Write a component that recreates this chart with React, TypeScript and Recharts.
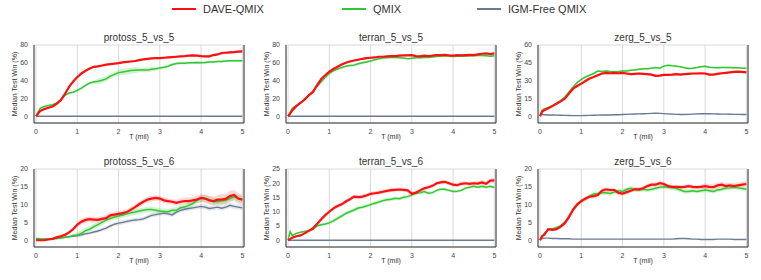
import { ComposedChart, Line, Area, XAxis, YAxis, CartesianGrid } from 'recharts'

// training steps (millions)
const TIME = [0, 0.05, 0.1, 0.2, 0.3, 0.4, 0.5, 0.6, 0.7, 0.8, 0.9, 1, 1.1, 1.2, 1.3, 1.4, 1.5, 1.6, 1.7, 1.8, 1.9, 2, 2.1, 2.2, 2.3, 2.4, 2.5, 2.6, 2.7, 2.8, 2.9, 3, 3.1, 3.2, 3.3, 3.4, 3.5, 3.6, 3.7, 3.8, 3.9, 4, 4.1, 4.2, 4.3, 4.4, 4.5, 4.6, 4.7, 4.8, 4.9, 5]
const X_TICKS = [0, 1, 2, 3, 4, 5]

// protoss_5_vs_5
const p55Dave = [0, 3, 6, 8, 9.5, 11, 14, 18, 25, 33, 39, 44, 48, 51, 53.5, 55.5, 56, 57, 58, 58.5, 59, 59.6, 60.4, 61, 61.5, 62, 63, 63.8, 64.5, 65, 65.2, 65.3, 65.7, 66, 66.4, 66.8, 67.2, 67.5, 68, 68.3, 68, 67.5, 67.2, 67.2, 68.7, 69.4, 71, 71.3, 71.7, 72, 72.5, 72.8]
const p55Qmix = [0, 5, 9, 11, 12, 13, 15, 18, 23.5, 26, 27, 29, 31.5, 34.7, 37.3, 38.5, 39.3, 40.4, 42, 45, 47, 49, 49.8, 50.5, 51.3, 51.7, 52, 52, 52, 52.8, 53.2, 54.3, 55, 56.2, 58, 59.2, 59.6, 59.6, 60, 60, 60.4, 60, 60.4, 61, 61, 61.5, 61.5, 62, 62.3, 62.3, 62.3, 62.3]
const p55Free = [0, 0, 0, 0, 0, 0, 0, 0, 0, 0, 0, 0, 0, 0, 0, 0, 0, 0, 0, 0, 0, 0, 0, 0, 0, 0, 0, 0, 0, 0, 0, 0, 0, 0, 0, 0, 0, 0, 0, 0, 0, 0, 0, 0, 0, 0, 0, 0, 0, 0, 0, 0]
const p55DaveSpread = [0.5, 1, 1, 1, 1, 1, 1, 1, 1.5, 1.5, 1.5]
const p55QmixSpread = [0.5, 1, 1.5, 3, 3.5, 2.5, 1.5, 1.5, 1.5, 1.5, 1.5]

// terran_5_vs_5
const t55Dave = [0, 3, 6.4, 11.3, 15, 18.5, 23.4, 27, 34.7, 41.5, 46, 50, 53, 55.5, 58, 60, 61.5, 62.6, 63.4, 64.5, 65.3, 65.7, 66, 66.8, 66.8, 67.2, 67.5, 67.5, 68, 68.3, 68.3, 68.7, 67.5, 67.2, 68, 67.5, 68, 68.7, 68.7, 69, 68.3, 68, 68.7, 68.3, 68.7, 69, 68.7, 69.4, 70.2, 70.6, 69.8, 70.6]
const t55Qmix = [0, 4.5, 9, 12, 15, 19.6, 23.4, 28, 33, 38.5, 43.4, 48, 51, 53, 54.7, 56.2, 57, 57.4, 59, 60, 61, 62, 63.4, 64.5, 65.3, 65.7, 66, 66, 65.7, 65.3, 64.5, 65, 65.7, 65.7, 66, 66, 66.4, 67.2, 67.5, 68, 67.5, 67.2, 67.5, 67.5, 67.5, 68, 68, 68.3, 68.3, 68, 67.5, 68]
const t55Free = [0, 0, 0, 0, 0, 0, 0, 0, 0, 0, 0, 0, 0, 0, 0, 0, 0, 0, 0, 0, 0, 0, 0, 0, 0, 0, 0, 0, 0, 0, 0, 0, 0, 0, 0, 0, 0, 0, 0, 0, 0, 0, 0, 0, 0, 0, 0, 0, 0, 0, 0, 0]
const t55DaveSpread = [0.5, 1, 1, 1, 1, 1, 0.8, 0.8, 0.8, 0.8, 0.8]
const t55QmixSpread = [0.5, 0.8, 1, 1.5, 1, 0.8, 0.8, 0.8, 0.8, 0.8, 0.8]

// zerg_5_vs_5
const z55Dave = [0, 4, 5, 6.8, 8.5, 10.5, 12.5, 14.7, 19, 23.2, 25.5, 27.5, 29.7, 31.7, 33.1, 34.5, 36, 36.5, 36.2, 36.5, 36.2, 36.5, 36, 35.4, 35.7, 36, 35.7, 35.4, 35, 34, 34.2, 34.8, 34.8, 35, 35.4, 35, 35.4, 35.7, 36, 36, 36.2, 36, 35, 35, 35.7, 36.2, 36.5, 37, 37.4, 37.6, 37.4, 37]
const z55Qmix = [0, 5, 6.2, 7.4, 9, 11, 13.3, 16, 20.4, 24.6, 28.3, 31, 33.1, 34.5, 36, 38, 37.6, 38, 37.6, 37.4, 37.6, 38, 38.2, 38.8, 39, 39.6, 40, 40, 40.5, 41, 40.5, 42.2, 43, 42.5, 42.2, 41.6, 40.8, 40.2, 40.5, 41, 41.6, 42, 41.3, 41, 40.8, 41, 41, 41, 40.8, 40.8, 40.5, 40.5]
const z55Free = [1.5, 1.4, 1.3, 1.1, 1, 0.9, 0.8, 0.7, 0.6, 0.5, 0.5, 0.5, 0.6, 0.7, 0.8, 0.9, 1, 1, 1.1, 1.2, 1.3, 1.5, 1.6, 1.8, 1.9, 2, 2.1, 2.2, 2.4, 2.5, 2.4, 2.2, 2, 1.8, 1.6, 1.5, 1.5, 1.6, 1.8, 2, 2.1, 2.2, 2.1, 2, 1.9, 1.8, 1.8, 1.7, 1.6, 1.6, 1.5, 1.5]
const z55DaveSpread = [0.5, 0.8, 1, 1, 1, 1, 1, 1, 1, 1, 1]
const z55QmixSpread = [0.5, 0.8, 0.8, 0.8, 0.8, 0.8, 0.8, 0.8, 0.8, 0.8, 0.8]
const z55FreeSpread = [0.4, 0.4, 0.4, 0.4, 0.5, 0.5, 0.5, 0.5, 0.5, 0.5, 0.5]

// protoss_5_vs_6
const p56Dave = [0, 0, 0, 0, 0.2, 0.4, 0.8, 1.1, 1.5, 2.2, 3.1, 4.4, 5.2, 5.7, 5.9, 5.8, 5.7, 6, 6.2, 7, 7.2, 7.4, 7.6, 7.9, 8.6, 9.3, 10.1, 10.8, 11.4, 11.7, 11.9, 11.7, 11.2, 11, 10.8, 10.5, 10.8, 11, 11, 11.2, 11.4, 11.9, 11.7, 11.2, 11, 11.4, 11.4, 11.6, 12.4, 12.7, 11.7, 11.4]
const p56Qmix = [0.5, 0.5, 0.4, 0.3, 0.4, 0.4, 0.5, 0.6, 0.8, 1, 1.3, 1.5, 1.9, 2.7, 3.1, 3.8, 4.4, 5, 5.7, 6.1, 6.5, 6.8, 7.1, 7.4, 7.7, 7.9, 8.2, 8.4, 8.6, 8.6, 8.4, 8.2, 8.1, 8, 8.4, 8.4, 9.1, 9.3, 9.8, 10.3, 11.2, 11.7, 11.7, 11.4, 10.8, 10.8, 11, 11.2, 11.7, 12.2, 11.7, 11.4]
const p56Free = [0.2, 0.2, 0.2, 0.3, 0.4, 0.5, 0.6, 0.7, 0.8, 1, 1.1, 1.3, 1.5, 1.8, 2, 2.3, 2.6, 3, 3.4, 4, 4.5, 4.8, 5, 5.3, 5.5, 5.7, 5.8, 6, 6.5, 7, 7.2, 7.4, 7.6, 7.4, 7.1, 7.9, 8.4, 8.7, 8.9, 9.1, 9.3, 9.5, 9.3, 8.9, 9.1, 9.3, 9, 9.3, 9.8, 9.5, 9.3, 9.1]
const p56DaveSpread = [0.2, 0.5, 0.8, 0.8, 0.8, 0.8, 0.8, 1, 1.2, 1.5, 1.5]
const p56QmixSpread = [0.2, 0.4, 0.8, 0.8, 0.8, 0.8, 0.8, 0.8, 1, 1, 1]
const p56FreeSpread = [0.1, 0.2, 0.4, 0.5, 0.6, 0.6, 0.6, 0.6, 0.7, 0.7, 0.7]

// terran_5_vs_6
const t56Dave = [0, 0.4, 0.9, 1.4, 1.7, 2.4, 3.3, 4.1, 5.7, 7.3, 8.8, 10, 11.2, 12, 12.6, 13.6, 14.4, 15.3, 15.1, 15.3, 15.7, 16.3, 16.5, 16.7, 17, 17.3, 17.6, 17.7, 17.8, 17.7, 17.5, 16.3, 16.7, 17.5, 18.2, 18.6, 19.1, 20, 20.3, 20.5, 20, 19.5, 19.3, 19.8, 20, 19.8, 20, 19.9, 20.3, 19.8, 20.9, 21]
const t56Qmix = [0, 3, 1.6, 2.4, 2.8, 3.1, 3.3, 3.8, 5, 5.4, 5.7, 6.1, 6.8, 7.7, 8.5, 9.4, 10, 10.6, 11.3, 11.6, 12, 12.5, 13, 13.4, 13.9, 14.2, 14.4, 14.7, 14.6, 15.1, 15.3, 15.9, 16.5, 16.7, 17.1, 16.5, 16.7, 17.5, 17.9, 17.9, 17.5, 17.1, 17.2, 17.5, 18.3, 18.6, 18.9, 18.6, 18.9, 18.6, 18.9, 18.5]
const t56Free = [0, 0, 0, 0, 0, 0, 0, 0, 0, 0, 0, 0, 0, 0, 0, 0, 0, 0, 0, 0, 0, 0, 0, 0, 0, 0, 0, 0, 0, 0, 0, 0, 0, 0, 0, 0, 0, 0, 0, 0, 0, 0, 0, 0, 0, 0, 0, 0, 0, 0, 0, 0]
const t56DaveSpread = [0.3, 0.5, 0.7, 0.7, 0.7, 0.7, 0.7, 0.7, 0.7, 0.8, 1]
const t56QmixSpread = [0.3, 0.5, 0.6, 0.6, 0.6, 0.6, 0.6, 0.5, 0.5, 0.5, 0.5]

// zerg_5_vs_6
const z56Dave = [0, 1.2, 1.5, 3.1, 2.9, 3.1, 3.8, 4.8, 6.5, 8.6, 10.1, 11, 11.7, 12.2, 12.4, 12.7, 13.9, 14.3, 14.1, 14.1, 13.3, 13.1, 13.5, 13.9, 14.3, 14.3, 14.6, 15.2, 15.6, 15.6, 16, 15.8, 15.2, 15, 15, 14.9, 15, 15.2, 15, 14.9, 15, 15.2, 15, 14.9, 15.4, 15.6, 15.2, 15.4, 15.2, 15.4, 15.6, 15.8]
const z56Qmix = [0, 1, 1.9, 3, 3.2, 3.6, 4, 5, 6.7, 8.4, 9.8, 11, 11.6, 12.4, 13, 13.1, 13.3, 13.3, 13.1, 13.5, 13.9, 13.7, 14.3, 14.6, 14.3, 14.1, 14.3, 14.1, 14.3, 14.6, 14.9, 15, 14.9, 14.7, 14.5, 14.1, 13.7, 13.7, 13.9, 13.7, 13.9, 14.1, 13.9, 13.7, 14.1, 14.3, 14.6, 14.7, 14.9, 14.7, 14.5, 14.3]
const z56Free = [0.3, 0.5, 0.6, 0.6, 0.5, 0.5, 0.4, 0.4, 0.4, 0.3, 0.3, 0.3, 0.3, 0.3, 0.3, 0.3, 0.3, 0.3, 0.3, 0.3, 0.3, 0.3, 0.3, 0.3, 0.3, 0.3, 0.3, 0.3, 0.3, 0.3, 0.3, 0.3, 0.3, 0.3, 0.4, 0.5, 0.5, 0.4, 0.3, 0.3, 0.2, 0.2, 0.2, 0.2, 0.3, 0.3, 0.3, 0.3, 0.2, 0.2, 0.2, 0.2]
const z56DaveSpread = [0.3, 0.6, 0.6, 0.6, 0.6, 0.6, 0.6, 0.6, 0.8, 0.8, 0.8]
const z56QmixSpread = [0.3, 0.6, 0.6, 0.6, 0.6, 0.6, 0.6, 0.6, 0.6, 0.6, 0.6]

const colors = {
  dave: '#ff1010',
  qmix: '#33c733',
  free: '#6b7b95',
  grid: '#dadada',
  spine: '#333333',
  text: '#333333',
}

const FONT = '"Liberation Sans", Arial, sans-serif'

// plot-area boxes (pixels)
const COL_LEFT = [34, 286, 538]
const ROW_TOP = [44.5, 168.5]
const PLOT_W = 210
const PLOT_H = 78
const Y_AXIS_W = 34
const MARGIN_TOP = 10
const X_AXIS_H = 25

const panels = [
  { title: 'protoss_5_vs_5', yMax: 80, yTicks: [0, 20, 40, 60, 80], dave: p55Dave, qmix: p55Qmix, free: p55Free, daveS: p55DaveSpread, qmixS: p55QmixSpread, freeS: null },
  { title: 'terran_5_vs_5', yMax: 80, yTicks: [0, 20, 40, 60, 80], dave: t55Dave, qmix: t55Qmix, free: t55Free, daveS: t55DaveSpread, qmixS: t55QmixSpread, freeS: null },
  { title: 'zerg_5_vs_5', yMax: 60, yTicks: [0, 15, 30, 45, 60], dave: z55Dave, qmix: z55Qmix, free: z55Free, daveS: z55DaveSpread, qmixS: z55QmixSpread, freeS: z55FreeSpread },
  { title: 'protoss_5_vs_6', yMax: 20, yTicks: [0, 5, 10, 15, 20], dave: p56Dave, qmix: p56Qmix, free: p56Free, daveS: p56DaveSpread, qmixS: p56QmixSpread, freeS: p56FreeSpread },
  { title: 'terran_5_vs_6', yMax: 25, yTicks: [0, 5, 10, 15, 20, 25], dave: t56Dave, qmix: t56Qmix, free: t56Free, daveS: t56DaveSpread, qmixS: t56QmixSpread, freeS: null },
  { title: 'zerg_5_vs_6', yMax: 20, yTicks: [0, 5, 10, 15, 20], dave: z56Dave, qmix: z56Qmix, free: z56Free, daveS: z56DaveSpread, qmixS: z56QmixSpread, freeS: null },
]

type PanelSpec = (typeof panels)[number]

const band = (v: number, spread: number[] | null, t: number) => {
  if (!spread) return null
  const s = spread[Math.min(10, Math.floor(t / 0.5))]
  return [v - s, v + s]
}

function Panel({ spec, left, top }: { spec: PanelSpec; left: number; top: number }) {
  const data = TIME.map((t, i) => ({
    t,
    dave: spec.dave[i],
    qmix: spec.qmix[i],
    free: spec.free[i],
    daveBand: band(spec.dave[i], spec.daveS, t),
    qmixBand: band(spec.qmix[i], spec.qmixS, t),
    freeBand: band(spec.free[i], spec.freeS, t),
  }))
  const domain = [-0.095 * spec.yMax, spec.yMax]
  const tick = { fill: '#444', fontSize: 7, fontFamily: FONT }

  return (
    <>
      <div style={{ position: 'absolute', left, top: top - 12.5, width: PLOT_W, textAlign: 'center', fontSize: 10, lineHeight: '12px', color: colors.text }}>
        {spec.title}
      </div>
      <div style={{ position: 'absolute', left: left - 19, top: top + PLOT_H / 2, transform: 'translate(-50%, -50%) rotate(-90deg)', whiteSpace: 'nowrap', fontSize: 7, lineHeight: '8px', color: colors.text }}>
        Median Test Win (%)
      </div>
      <div style={{ position: 'absolute', left, top: top + PLOT_H + 10.5, width: PLOT_W, textAlign: 'center', fontSize: 7, lineHeight: '8px', color: colors.text }}>
        T (mil)
      </div>
      <div style={{ position: 'absolute', left: left - Y_AXIS_W, top: top - MARGIN_TOP }}>
        <ComposedChart width={Y_AXIS_W + PLOT_W + 6} height={MARGIN_TOP + PLOT_H + X_AXIS_H} data={data} margin={{ top: MARGIN_TOP, right: 0, bottom: 0, left: 0 }}>
          <CartesianGrid stroke={colors.grid} strokeWidth={1} />
          <XAxis dataKey="t" type="number" domain={[-0.05, 5.04]} ticks={X_TICKS} height={X_AXIS_H} tickLine={false} tickSize={0} tickMargin={6} tick={tick} axisLine={{ stroke: colors.spine, strokeWidth: 1 }} allowDataOverflow />
          <YAxis yAxisId="l" type="number" domain={domain} ticks={spec.yTicks} width={Y_AXIS_W} tickLine={false} tickSize={0} tickMargin={6} tick={tick} axisLine={{ stroke: colors.spine, strokeWidth: 1 }} allowDataOverflow />
          <YAxis yAxisId="r" orientation="right" type="number" domain={domain} width={6} tick={false} tickLine={false} axisLine={{ stroke: colors.spine, strokeWidth: 1 }} />
          {spec.freeS && <Area yAxisId="l" dataKey="freeBand" type="linear" stroke="none" fill={colors.free} fillOpacity={0.18} isAnimationActive={false} dot={false} activeDot={false} />}
          <Area yAxisId="l" dataKey="qmixBand" type="linear" stroke="none" fill={colors.qmix} fillOpacity={0.22} isAnimationActive={false} dot={false} activeDot={false} />
          <Area yAxisId="l" dataKey="daveBand" type="linear" stroke="none" fill={colors.dave} fillOpacity={0.16} isAnimationActive={false} dot={false} activeDot={false} />
          <Line yAxisId="l" dataKey="free" type="linear" stroke={colors.free} strokeWidth={1.4} dot={false} activeDot={false} isAnimationActive={false} />
          <Line yAxisId="l" dataKey="qmix" type="linear" stroke={colors.qmix} strokeWidth={1.5} dot={false} activeDot={false} isAnimationActive={false} />
          <Line yAxisId="l" dataKey="dave" type="linear" stroke={colors.dave} strokeWidth={2.2} dot={false} activeDot={false} isAnimationActive={false} />
        </ComposedChart>
      </div>
    </>
  )
}

const legendItems = [
  { label: 'DAVE-QMIX', color: colors.dave, width: 2.6, x: 172 },
  { label: 'QMIX', color: colors.qmix, width: 1.5, x: 342 },
  { label: 'IGM-Free QMIX', color: colors.free, width: 1.5, x: 477 },
]

export default function App() {
  return (
    <div style={{ position: 'absolute', left: 0, top: 0, width: 761, height: 280, background: '#fff', fontFamily: FONT, overflow: 'hidden' }}>
      {legendItems.map((item) => (
        <div key={item.label} style={{ position: 'absolute', left: item.x, top: 2, height: 14, display: 'flex', alignItems: 'center' }}>
          <div style={{ width: 24, height: item.width, background: item.color }} />
          <span style={{ marginLeft: 7, fontSize: 11, color: colors.text }}>{item.label}</span>
        </div>
      ))}
      {panels.map((spec, i) => (
        <Panel key={spec.title} spec={spec} left={COL_LEFT[i % 3]} top={ROW_TOP[Math.floor(i / 3)]} />
      ))}
    </div>
  )
}
